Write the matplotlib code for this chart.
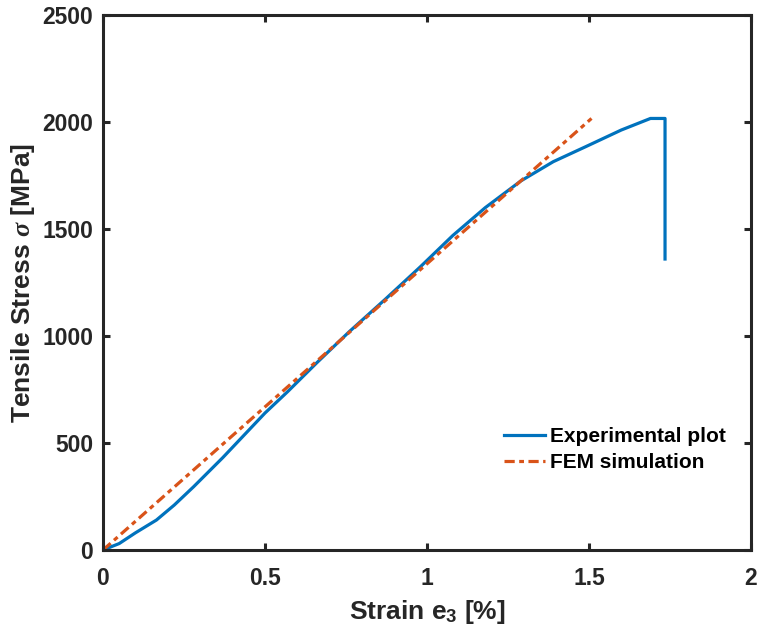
import matplotlib
matplotlib.use("Agg")
import matplotlib.pyplot as plt

# Data
exp_strain = [0, 0.05, 0.10, 0.165, 0.22, 0.28, 0.37, 0.45, 0.50, 0.57, 0.66, 0.76,
              0.87, 0.98, 1.08, 1.18, 1.29, 1.39, 1.49, 1.60, 1.69, 1.735, 1.735]
exp_stress = [0, 30, 80, 140, 210, 296, 432, 560, 640, 740, 875, 1020,
              1170, 1324, 1470, 1600, 1725, 1815, 1885, 1963, 2017, 2017, 1360]
fem_strain = [0, 1.508]
fem_stress = [0, 2017]

x_ticks = [0, 0.5, 1, 1.5, 2]
x_ticklabels = ["0", "0.5", "1", "1.5", "2"]
y_ticks = [0, 500, 1000, 1500, 2000, 2500]
y_ticklabels = ["0", "500", "1000", "1500", "2000", "2500"]

plt.rcParams['font.family'] = ['Liberation Sans', 'DejaVu Sans']
plt.rcParams['font.weight'] = 'bold'
plt.rcParams['mathtext.fontset'] = 'custom'
plt.rcParams['mathtext.rm'] = 'Liberation Sans:bold'
plt.rcParams['mathtext.bf'] = 'Liberation Sans:bold'
plt.rcParams['mathtext.it'] = 'Liberation Serif:italic'

fig = plt.figure(figsize=(7.6, 6.3), dpi=100)
ax = fig.add_axes([0.1355, 0.127, 0.8525, 0.849])

ax.plot(exp_strain, exp_stress, color='#0072BD', lw=2.3, label='Experimental plot')
ax.plot(fem_strain, fem_stress, color='#D95319', lw=2.3, linestyle=(0, (3.2, 1.4, 1.5, 1.4)),
        label='FEM simulation')

ax.set_xlim(0, 2)
ax.set_ylim(0, 2500)
ax.set_xticks(x_ticks)
ax.set_xticklabels(x_ticklabels)
ax.set_yticks(y_ticks)
ax.set_yticklabels(y_ticklabels)

for s in ax.spines.values():
    s.set_linewidth(2.2)
    s.set_color('#262626')
ax.tick_params(direction='in', length=5, width=2.2, color='#262626',
               top=True, right=True, labelsize=16.5, labelcolor='#262626')
ax.tick_params(axis='x', pad=12)
ax.tick_params(axis='y', pad=7)
for lab in ax.get_xticklabels() + ax.get_yticklabels():
    lab.set_fontweight('bold')

ax.set_xlabel(r'Strain e$_{3}$ [%]', fontsize=19, fontweight='bold', color='#262626', labelpad=6)
ax.set_ylabel(r'Tensile Stress $\sigma$ [MPa]', fontsize=19, fontweight='bold', color='#262626', labelpad=4)

leg = ax.legend(loc='lower right', bbox_to_anchor=(0.98, 0.122), frameon=False,
                prop={'weight': 'bold', 'size': 15}, handlelength=2.0,
                handletextpad=0.2, labelspacing=0.35, borderaxespad=0.2)

fig.savefig('out.png', dpi=100)
